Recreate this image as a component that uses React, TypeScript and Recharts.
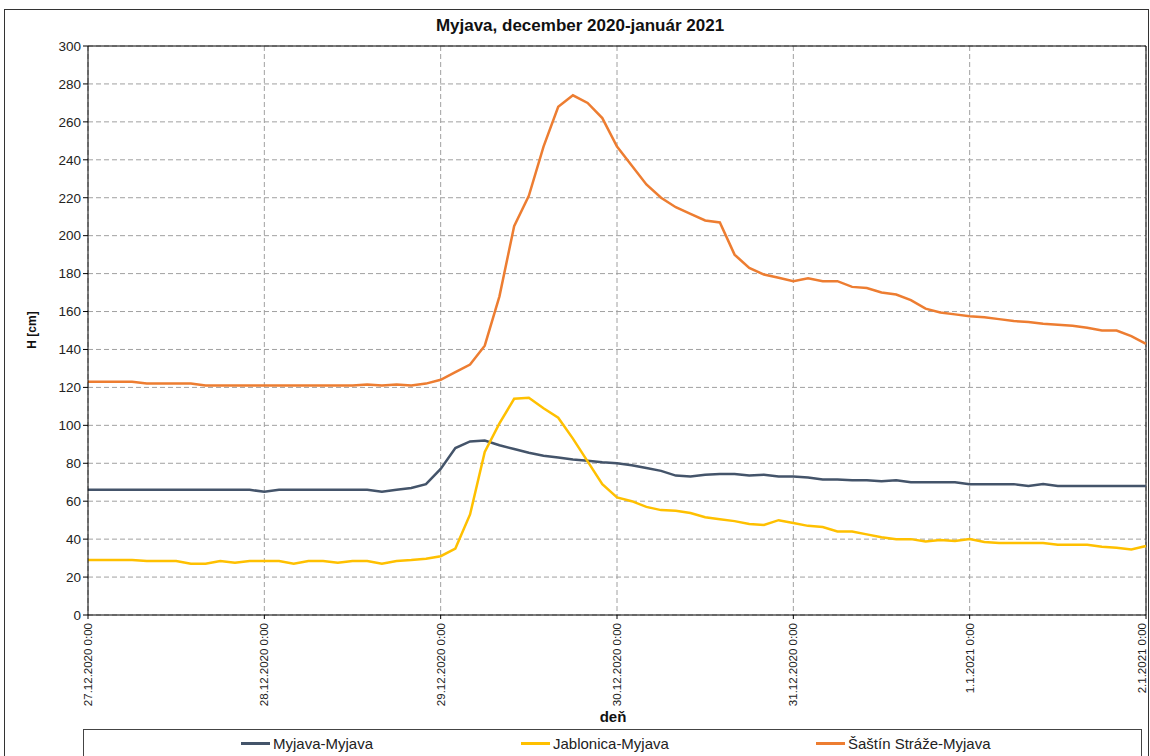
import { LineChart, Line, XAxis, YAxis, CartesianGrid, ReferenceLine } from 'recharts';

// hours since 27.12.2020 0:00, sampled every 2 hours
const hours = [
  0, 2, 4, 6, 8, 10, 12, 14, 16, 18, 20, 22, 24, 26, 28, 30, 32, 34, 36, 38, 40, 42, 44, 46,
  48, 50, 52, 54, 56, 58, 60, 62, 64, 66, 68, 70, 72, 74, 76, 78, 80, 82, 84, 86, 88, 90, 92, 94,
  96, 98, 100, 102, 104, 106, 108, 110, 112, 114, 116, 118, 120, 122, 124, 126, 128, 130, 132, 134, 136, 138, 140, 142,
  144,
];

const myjava = [
  66, 66, 66, 66, 66, 66, 66, 66, 66, 66, 66, 66, 65, 66, 66, 66, 66, 66, 66, 66, 65, 66, 67, 69,
  77, 88, 91.5, 92, 89.5, 87.5, 85.5, 84, 83, 82, 81.3, 80.5, 80, 79, 77.5, 76, 73.5, 73, 74, 74.3, 74.3, 73.5, 74, 73,
  73, 72.5, 71.5, 71.5, 71, 71, 70.5, 71, 70, 70, 70, 70, 69, 69, 69, 69, 68, 69, 68, 68, 68, 68, 68, 68,
  68,
];

const jablonica = [
  29, 29, 29, 29, 28.5, 28.5, 28.5, 27, 27, 28.5, 27.5, 28.5, 28.5, 28.5, 27, 28.5, 28.5, 27.5, 28.5, 28.5, 27, 28.5, 29, 29.7,
  31, 35, 53, 86, 101, 114, 114.5, 109, 104, 93, 81, 69, 62, 60, 57, 55.3, 55, 53.8, 51.5, 50.5, 49.5, 48, 47.5, 50,
  48.5, 47, 46.4, 44, 44, 42.5, 41, 40, 40, 38.8, 39.5, 39, 40, 38.5, 38, 38, 38, 38, 37, 37, 37, 36, 35.5, 34.5,
  36.4,
];

const sastin = [
  123, 123, 123, 123, 122, 122, 122, 122, 121, 121, 121, 121, 121, 121, 121, 121, 121, 121, 121, 121.5, 121, 121.5, 121, 122,
  124, 128, 132, 142, 168, 205, 221, 247, 268, 274, 270, 262, 247, 237, 227, 220, 215, 211.5, 208, 207, 190, 183, 179.5, 177.8,
  176, 177.5, 176, 176, 173, 172.4, 170, 169, 166, 161.5, 159.5, 158.5, 157.5, 157, 156, 155, 154.5, 153.5, 153, 152.5, 151.5, 150, 150, 147,
  143,
];

const xTicks = [0, 24, 48, 72, 96, 120, 144];
const xTickLabels = [
  '27.12.2020 0:00',
  '28.12.2020 0:00',
  '29.12.2020 0:00',
  '30.12.2020 0:00',
  '31.12.2020 0:00',
  '1.1.2021 0:00',
  '2.1.2021 0:00',
];
const yTicks = [0, 20, 40, 60, 80, 100, 120, 140, 160, 180, 200, 220, 240, 260, 280, 300];

const series = [
  { key: 'myjava', name: 'Myjava-Myjava', color: '#44546A' },
  { key: 'jablonica', name: 'Jablonica-Myjava', color: '#FFC000' },
  { key: 'sastin', name: 'Šaštín Stráže-Myjava', color: '#ED7D31' },
];

const data = hours.map((h, i) => ({
  h,
  myjava: myjava[i],
  jablonica: jablonica[i],
  sastin: sastin[i],
}));

const FONT = '"Liberation Sans", Arial, sans-serif';

function XTick({ x, y, payload }: any) {
  const idx = xTicks.indexOf(payload.value);
  const ty = y + 2;
  // last label sits on the right edge, nudge it inside
  const tx = idx === xTicks.length - 1 ? x - 4 : x;
  return (
    <text
      x={tx}
      y={ty}
      transform={`rotate(-90, ${tx}, ${ty})`}
      textAnchor="end"
      dominantBaseline="central"
      fontSize={11.5}
      fontFamily={FONT}
      fill="#222"
    >
      {xTickLabels[idx]}
    </text>
  );
}

export default function App() {
  return (
    <div style={{ position: 'absolute', left: 0, top: 0, width: 1150, height: 756, overflow: 'hidden', background: '#fff', fontFamily: FONT }}>
      {/* outer chart frame */}
      <div style={{ position: 'absolute', left: 4, top: 9, width: 1143, height: 780, border: '1px solid #333' }} />

      <div style={{ position: 'absolute', left: 0, width: 1160, top: 16, textAlign: 'center', fontSize: 17, fontWeight: 'bold', color: '#111' }}>
        Myjava, december 2020-január 2021
      </div>

      <div
        style={{
          position: 'absolute',
          left: 32,
          top: 330,
          transform: 'translate(-50%, -50%) rotate(-90deg)',
          fontSize: 12,
          fontWeight: 'bold',
          color: '#111',
          whiteSpace: 'nowrap',
        }}
      >
        H [cm]
      </div>

      <div style={{ position: 'absolute', left: 613, top: 716, transform: 'translate(-50%, -50%)', fontSize: 15, fontWeight: 'bold', color: '#111' }}>
        deň
      </div>

      <div style={{ position: 'absolute', left: 0, top: 0 }}>
        <LineChart width={1150} height={756} data={data} margin={{ top: 46, right: 4, bottom: 46, left: 48 }}>
          <CartesianGrid stroke="#a0a0a0" strokeDasharray="5 3" />
          <XAxis
            dataKey="h"
            type="number"
            domain={[0, 144]}
            ticks={xTicks}
            interval={0}
            height={95}
            tick={<XTick />}
            tickSize={4}
            stroke="#000"
            tickLine={{ stroke: '#000' }}
          />
          <YAxis
            type="number"
            domain={[0, 300]}
            ticks={yTicks}
            interval={0}
            width={40}
            tickSize={5}
            stroke="#000"
            tick={{ fontSize: 13.5, fill: '#222', fontFamily: FONT }}
          />
          <ReferenceLine y={300} stroke="#000" strokeWidth={1} />
          <ReferenceLine x={144} stroke="#000" strokeWidth={1} />
          {series.map((s) => (
            <Line
              key={s.key}
              type="linear"
              dataKey={s.key}
              name={s.name}
              stroke={s.color}
              strokeWidth={2.5}
              dot={false}
              isAnimationActive={false}
            />
          ))}
        </LineChart>
      </div>

      {/* legend box */}
      <div style={{ position: 'absolute', left: 83, top: 729, width: 1057, height: 40, border: '1px solid #444', background: '#fff' }}>
        {series.map((s, i) => (
          <div
            key={s.key}
            style={{ position: 'absolute', left: [157, 437, 732][i], top: 5, display: 'flex', alignItems: 'center', fontSize: 15, color: '#222', whiteSpace: 'nowrap' }}
          >
            <span style={{ display: 'inline-block', width: 29, height: 3, background: s.color, marginRight: 3 }} />
            {s.name}
          </div>
        ))}
      </div>
    </div>
  );
}
